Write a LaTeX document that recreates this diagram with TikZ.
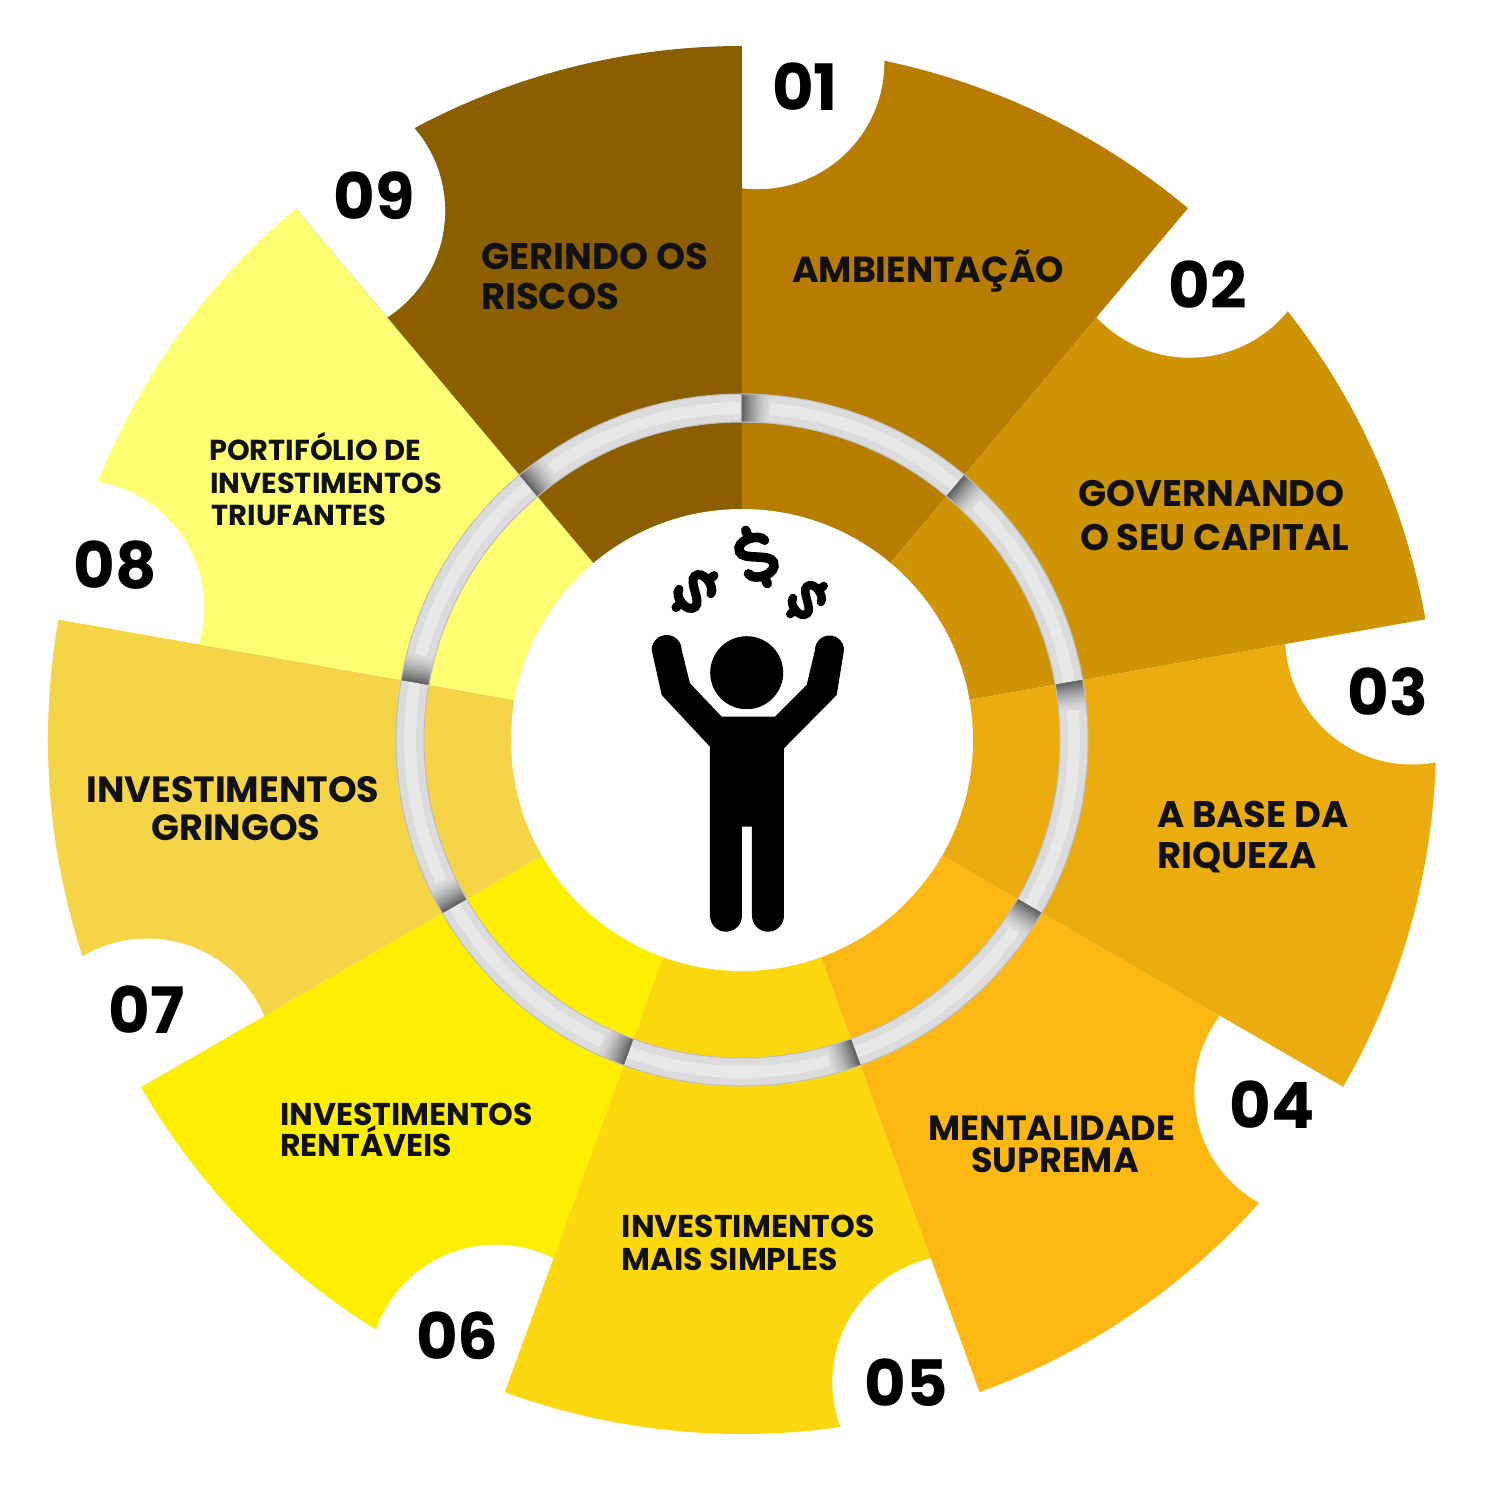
\documentclass[tikz,border=0pt]{standalone}
\usepackage{fontspec}
\setmainfont{Poppins}
\definecolor{c1}{HTML}{B77C00}
\definecolor{c2}{HTML}{CF9306}
\definecolor{c3}{HTML}{EBAC10}
\definecolor{c4}{HTML}{FDB813}
\definecolor{c5}{HTML}{FDD710}
\definecolor{c6}{HTML}{FEEE00}
\definecolor{c7}{HTML}{F6D447}
\definecolor{c8}{HTML}{FFFF73}
\definecolor{c9}{HTML}{8B5F00}
\definecolor{ringgray}{HTML}{DCDCDC}
\definecolor{ringdark}{HTML}{666666}
\definecolor{ringedge}{HTML}{BDBDBD}
\definecolor{textc}{HTML}{111111}
\newcommand{\fsz}[1]{\bfseries\fontsize{#1}{#1}\selectfont}
\begin{document}
\begin{tikzpicture}[x=1pt,y=1pt,
  lab/.style={inner sep=0pt, text=textc},
  num/.style={inner sep=0pt, text=black, font=\fsz{64}},
  dollar/.pic={
    \draw[line width=\pgfkeysvalueof{/tikz/dlw}, line cap=round]
      (11,10) .. controls (9,17) and (-11,19) .. (-11,9)
      .. controls (-11,1) and (11,-1) .. (11,-9)
      .. controls (11,-19) and (-9,-18) .. (-11,-10);
    \draw[line width=\pgfkeysvalueof{/tikz/dlw}, line cap=round] (0,17) -- (0,23);
    \draw[line width=\pgfkeysvalueof{/tikz/dlw}, line cap=round] (0,-17) -- (0,-23);
  },
  dlw/.initial=7pt]
\useasboundingbox (-742,-760) rectangle (758,740);
\fill[white] (-742,-760) rectangle (758,740);

% segments with notches
\foreach \k/\col in {1/c1,2/c2,3/c3,4/c4,5/c5,6/c6,7/c7,8/c8,9/c9}{
  \pgfmathsetmacro\a{90-40*(\k-1)}
  \pgfmathsetmacro\b{\a-40}
  \pgfmathsetmacro\c{\a-1.3}
  \fill[\col] (0,0) -- (\b:694) arc[start angle=\b, end angle=\a, radius=694] -- cycle;
  \begin{scope}
    \clip (0,0) -- (\b:720) arc[start angle=\b, end angle=\a, radius=720] -- cycle;
    \fill[white] (\c:678) circle[radius=127];
  \end{scope}
}

% ring
\fill[ringgray, even odd rule] (0,0) circle[radius=346] (0,0) circle[radius=318];
\fill[white, opacity=0.35, even odd rule] (0,0) circle[radius=338] (0,0) circle[radius=326];
\foreach \t in {90,50,10,-30,-70,-110,-150,-190,-230}{
  \foreach \i in {11,...,0}{
    \pgfmathsetmacro\tb{\t-0.4*(\i+1)}
    \pgfmathtruncatemacro\p{100*(1-\i/12)^1.5}
    \fill[ringdark!\p!ringgray] (\t:318) arc[start angle=\t, end angle=\tb, radius=318]
      -- (\tb:346) arc[start angle=\tb, end angle=\t, radius=346] -- cycle;
  }
}
\draw[ringedge, line width=1pt] (0,0) circle[radius=346];
\draw[ringedge, line width=1pt] (0,0) circle[radius=318];

% hub
\node[circle, fill=white, minimum size=462pt, inner sep=0pt] (hub) at (0,0) {};

% person
\fill[black] (4.7,67.3) circle[radius=36.5];
\fill[black] (-90.3,90) arc[start angle=180, end angle=0, radius=15]
  -- (-52,56.7) -- (-20.3,23.3) -- (33,23.3) -- (64.7,55) -- (73,90)
  arc[start angle=180, end angle=0, radius=14.5]
  -- (94.7,45) -- (42,-8.3) -- (42,-175.7)
  arc[start angle=0, end angle=-180, radius=16]
  -- (10,-86.7) -- (0,-86.7) -- (0,-175.7)
  arc[start angle=0, end angle=-180, radius=16]
  -- (-32,-6.7) -- (-80.3,45) -- cycle;

% dollars
\pic (dm) [rotate=22, scale=1.25, dlw=9.5pt] at (14.5,183) {dollar};
\pic (dl) [rotate=-50, scale=1.08, dlw=9pt] at (-47,148.5) {dollar};
\pic (dr) [rotate=-50, scale=0.95, dlw=8.5pt] at (65,140) {dollar};

% labels
\node[lab, font=\fsz{36.2}, anchor=base west] (l1) at (50,457) {AMBIENTAÇÃO};
\node[lab, font=\fsz{36.9}, anchor=base west] (l2a) at (336,233.3) {GOVERNANDO};
\node[lab, font=\fsz{36.9}, anchor=base west] (l2b) at (338,189.3) {O SEU CAPITAL};
\node[lab, font=\fsz{37}, anchor=base west] (l3a) at (415,-87.5) {A BASE DA};
\node[lab, font=\fsz{37}, anchor=base west] (l3b) at (415,-128.6) {RIQUEZA};
\node[lab, font=\fsz{35}, anchor=base] (l4a) at (310,-400) {MENTALIDADE};
\node[lab, font=\fsz{35}, anchor=base] (l4b) at (313,-432) {SUPREMA};
\node[lab, font=\fsz{31.5}, anchor=base west] (l5a) at (-120.3,-497.3) {INVESTIMENTOS};
\node[lab, font=\fsz{31.5}, anchor=base west] (l5b) at (-120.3,-530.7) {MAIS SIMPLES};
\node[lab, font=\fsz{31.5}, anchor=base west] (l6a) at (-462,-385) {INVESTIMENTOS};
\node[lab, font=\fsz{31.5}, anchor=base west] (l6b) at (-462,-416.7) {RENTÁVEIS};
\node[lab, font=\fsz{36.5}, anchor=base] (l7a) at (-509,-62.3) {INVESTIMENTOS};
\node[lab, font=\fsz{36.5}, anchor=base] (l7b) at (-506,-100) {GRINGOS};
\node[lab, font=\fsz{28.9}, anchor=base west] (l8a) at (-533,279) {PORTIFÓLIO DE};
\node[lab, font=\fsz{28.9}, anchor=base west] (l8b) at (-532,246.7) {INVESTIMENTOS};
\node[lab, font=\fsz{28.9}, anchor=base west] (l8c) at (-530.3,214) {TRIUFANTES};
\node[lab, font=\fsz{37}, anchor=base west] (l9a) at (-261,470) {GERINDO OS};
\node[lab, font=\fsz{37}, anchor=base west] (l9b) at (-261,430) {RISCOS};

% numbers
\node[num] (n1) at (63,653) {01};
\node[num] (n2) at (465.5,455) {02};
\node[num] (n3) at (646,48) {03};
\node[num] (n4) at (530,-365) {04};
\node[num] (n5) at (164,-643) {05};
\node[num] (n6) at (-284.5,-596) {06};
\node[num] (n7) at (-595.3,-270) {07};
\node[num] (n8) at (-626.5,175) {08};
\node[num] (n9) at (-368,544) {09};
\end{tikzpicture}
\end{document}
